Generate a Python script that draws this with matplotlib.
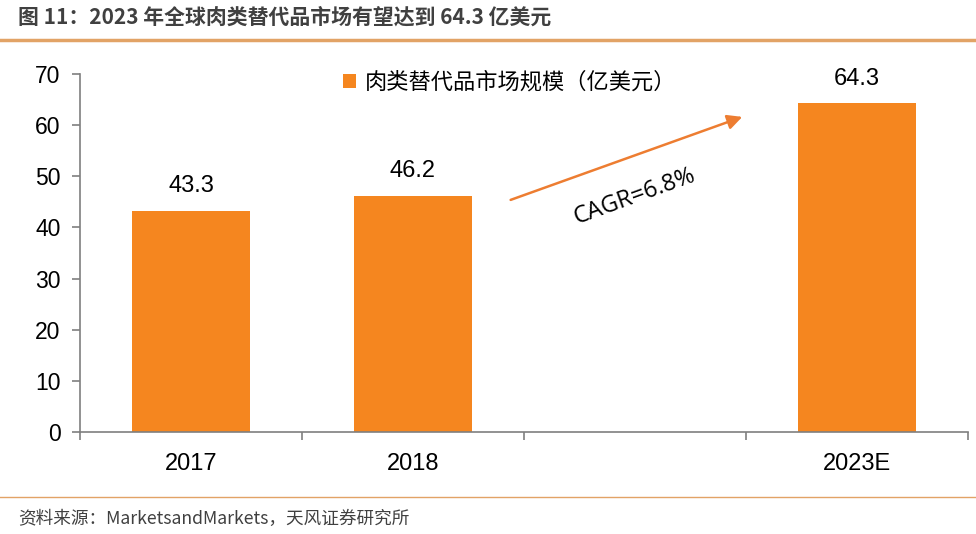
import matplotlib.pyplot as plt
import numpy as np

plt.rcParams['font.family'] = ['Liberation Sans', 'Noto Sans CJK SC', 'DejaVu Sans']

categories = ['2017', '2018', '', '2023E']
values = [43.3, 46.2, None, 64.3]
yticks = [0, 10, 20, 30, 40, 50, 60, 70]
legend_label = '肉类替代品市场规模（亿美元）'
title = '图 11：2023 年全球肉类替代品市场有望达到 64.3 亿美元'
source = '资料来源：MarketsandMarkets，天风证券研究所'
cagr = 'CAGR=6.8%'

orange = '#F5861F'
gray = '#7F7F7F'

fig = plt.figure(figsize=(9.76, 5.34), dpi=100)
ax = fig.add_axes([80/976, 1-432/534, 888/976, 358/534])

x = np.arange(len(categories))
xs = [i for i, v in zip(x, values) if v is not None]
vs = [v for v in values if v is not None]
bars = ax.bar(xs, vs, width=0.53, color=orange, label=legend_label)
for xi, v in zip(xs, vs):
    ax.text(xi, v + 2.6, f'{v:.1f}', ha='center', va='bottom', fontsize=17,
            family=['Liberation Sans'])

ax.set_xlim(-0.5, 3.5)
ax.set_ylim(0, 70)
ax.set_yticks(yticks)
ax.set_xticks(x)
ax.set_xticklabels(categories)
ax.set_xticks(np.arange(-0.5, 4.0, 1.0), minor=True)
ax.tick_params(axis='x', which='major', length=0, pad=15, labelsize=17)
ax.tick_params(axis='x', which='minor', length=6, color=gray, width=1.2)
ax.tick_params(axis='y', length=6, color=gray, width=1.2, pad=8, labelsize=16.5)
for s in ['top', 'right']:
    ax.spines[s].set_visible(False)
for s in ['left', 'bottom']:
    ax.spines[s].set_color(gray)
    ax.spines[s].set_linewidth(1.2)

leg = ax.legend(loc='upper center', bbox_to_anchor=(0.484, 1.065), frameon=False,
                handlelength=0.6, handleheight=0.6, handletextpad=0.4,
                prop={'family': ['Noto Sans CJK SC'], 'size': 16})

ax.annotate('', xy=(2.495, 61.8), xytext=(1.428, 45.2),
            arrowprops=dict(arrowstyle='-|>', color='#ED7D31', lw=1.8,
                            mutation_scale=22))
ax.text(2.0, 46.0, cagr, rotation=20, ha='center', va='center', fontsize=17,
        family=['Open Sans'], rotation_mode='anchor')

fig.text(18/976, 1-17/534, title, fontsize=15, fontweight='bold', color='#404040',
         va='center', family=['Noto Sans CJK SC'])
fig.add_artist(plt.Line2D([0, 1], [1-40/534, 1-40/534], color='#E2A366', lw=2.5))
fig.add_artist(plt.Line2D([0, 1], [1-497/534, 1-497/534], color='#E2A366', lw=1))
fig.text(18/976, 1-519/534, source, fontsize=12.7, color='#404040', va='center',
         family=['Noto Sans CJK SC'])

fig.savefig('out.png', dpi=100)
